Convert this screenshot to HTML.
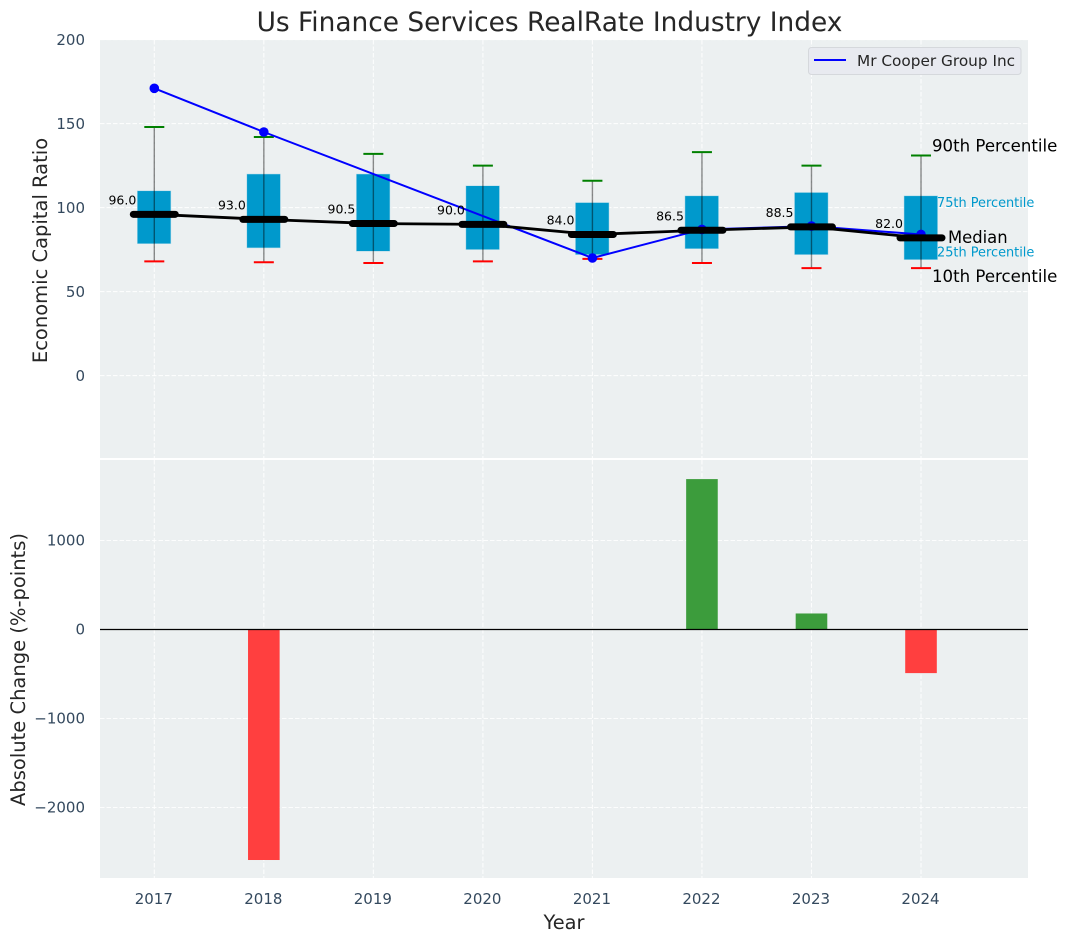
<!DOCTYPE html>
<html lang="en">
<head>
<meta charset="utf-8">
<title>Us Finance Services RealRate Industry Index</title>
<style>
html,body{margin:0;padding:0;background:#fff;}
svg{display:block;font-family:"DejaVu Sans","Liberation Sans",sans-serif;}
</style>
</head>
<body>
<svg id="chart" xmlns="http://www.w3.org/2000/svg" width="1067" height="942" viewBox="0 0 1067 942"></svg>
<script>
const years = [2017, 2018, 2019, 2020, 2021, 2022, 2023, 2024];
const p90 = [148, 142, 132, 125, 116, 133, 125, 131];
const p75 = [110, 120, 120, 113, 103, 107, 109, 107];
const median = [96, 93, 90.5, 90, 84, 86.5, 88.5, 82];
const p25 = [78.5, 76, 74, 75, 72, 75.5, 72, 69];
const p10 = [68, 67.5, 67, 68, 69.5, 67, 64, 64];
const company = [171, 145, null, null, 70, 87, 89, 84];
const change = [null, -2590, null, null, null, 1690, 180, -490];
const topTicks = [0, 50, 100, 150, 200];
const bottomTicks = [-2000, -1000, 0, 1000];

const svg = document.getElementById('chart');
const NS = 'http://www.w3.org/2000/svg';
const L = 100, R = 1028, T1 = 40, B1 = 458, T2 = 460, B2 = 878;
const x = v => 154.3 + (v - 2017) * 109.53;
const y1 = v => 375.6 - v * 1.68;
const y2 = v => 629.5 - v * 0.089;

function make(tag, attrs, text) {
  const el = document.createElementNS(NS, tag);
  for (const k in attrs) el.setAttribute(k, attrs[k]);
  if (text !== undefined) el.textContent = text;
  svg.appendChild(el);
  return el;
}
const GRID = {stroke: '#fff', 'stroke-width': 1.1, 'stroke-dasharray': '4.5 2', 'stroke-opacity': 0.85};
const TICK = {'font-size': 15, fill: '#34495e'};

let el;
el = make('rect', {x: L, y: T1, width: R - L, height: B1 - T1, fill: '#ecf0f1'});


el = make('rect', {x: L, y: T2, width: R - L, height: B2 - T2, fill: '#ecf0f1'});



el = make('text', {x: 549.5, y: 31, 'font-size': 26.4, fill: '#262626', 'text-anchor': 'middle'}, 'Us Finance Services RealRate Industry Index');


el = make('text', {x: 0, y: 0, 'font-size': 19.5, fill: '#262626', 'text-anchor': 'middle', transform: 'translate(47 250.5) rotate(-90)'}, 'Economic Capital Ratio');


el = make('text', {x: 0, y: 0, 'font-size': 19.5, fill: '#262626', 'text-anchor': 'middle', transform: 'translate(25 669.5) rotate(-90)'}, 'Absolute Change (%-points)');


el = make('text', {x: 564, y: 929, 'font-size': 19.4, fill: '#262626', 'text-anchor': 'middle'}, 'Year');



topTicks.forEach(t => {
  const g = make('line', Object.assign({x1: L, x2: R, y1: y1(t), y2: y1(t)}, GRID));
  
  
  const lab = make('text', Object.assign({x: 85, y: y1(t) + 5.4, 'text-anchor': 'end'}, TICK), String(t));
  
  
});
bottomTicks.forEach(t => {
  const g = make('line', Object.assign({x1: L, x2: R, y1: y2(t), y2: y2(t)}, GRID));
  
  
  const lab = make('text', Object.assign({x: 85, y: y2(t) + 5, 'text-anchor': 'end'}, TICK), String(t).replace('-', '\u2212'));
  
  
});
years.forEach(yr => {
  const a = make('line', Object.assign({x1: x(yr), x2: x(yr), y1: T1, y2: B1}, GRID));
  
  
  const b = make('line', Object.assign({x1: x(yr), x2: x(yr), y1: T2, y2: B2}, GRID));
  
  
  const lab = make('text', Object.assign({x: x(yr) - 0.5, y: 904, 'text-anchor': 'middle'}, TICK), String(yr));
  
  
});

/* boxes */
years.forEach((yr, i) => {
  const cx = x(yr);
  const box = make('rect', {x: cx - 17, y: y1(p75[i]), width: 33.6, height: y1(p25[i]) - y1(p75[i]), fill: '#0099cc', stroke: '#b5dcea', 'stroke-width': 0.5});
  
  
  const w = make('line', {x1: cx, x2: cx, y1: y1(p90[i]), y2: y1(p10[i]), stroke: '#000', 'stroke-opacity': 0.45, 'stroke-width': 1.4});
  
  
  const c1 = make('line', {x1: cx - 10, x2: cx + 10, y1: y1(p90[i]), y2: y1(p90[i]), stroke: '#008000', 'stroke-width': 2});
  
  
  const c2 = make('line', {x1: cx - 10, x2: cx + 10, y1: y1(p10[i]), y2: y1(p10[i]), stroke: '#ff0000', 'stroke-width': 2});
  
  
});

/* company series */
const pts = years.map((yr, i) => company[i] === null ? null : [x(yr), y1(company[i])]).filter(Boolean);
el = make('polyline', {points: pts.map(p => p.join(',')).join(' '), fill: 'none', stroke: '#0000ff', 'stroke-width': 2});


pts.forEach(p => {
  const d = make('circle', {cx: p[0], cy: p[1], r: 4.8, fill: '#0000ff'});
  
  
});

/* medians */
el = make('polyline', {points: years.map((yr, i) => x(yr) + ',' + y1(median[i])).join(' '), fill: 'none', stroke: '#000', 'stroke-width': 2.8});


years.forEach((yr, i) => {
  const m = make('line', {x1: x(yr) - 21, x2: x(yr) + 21, y1: y1(median[i]), y2: y1(median[i]), stroke: '#000', 'stroke-width': 7, 'stroke-linecap': 'round'});
  
  
  const t = make('text', {x: x(yr) - 18, y: y1(median[i]) - 10, 'font-size': 12.5, fill: '#000', 'text-anchor': 'end'}, median[i].toFixed(1));
  
  
});

/* percentile annotations */
const last = years.length - 1;
const lx = x(years[last]);
el = make('text', {x: lx + 11, y: y1(p90[last]) - 4, 'font-size': 16.6, fill: '#000'}, '90th Percentile');


el = make('text', {x: lx + 11, y: y1(p10[last]) + 14, 'font-size': 16.6, fill: '#000'}, '10th Percentile');


el = make('text', {x: lx + 27, y: y1(median[last]) + 5, 'font-size': 16.4, fill: '#000'}, 'Median');


el = make('text', {x: lx + 16, y: y1(p75[last]) + 11, 'font-size': 12.9, fill: '#0099cc'}, '75th Percentile');


el = make('text', {x: lx + 16, y: y1(p25[last]) - 3, 'font-size': 12.9, fill: '#0099cc'}, '25th Percentile');



/* legend */
el = make('rect', {x: 808.5, y: 47.5, width: 212.5, height: 27, rx: 3, fill: '#e8eaf0', stroke: '#d5d8dc', 'stroke-width': 1});


el = make('line', {x1: 814, x2: 846, y1: 60, y2: 60, stroke: '#0000ff', 'stroke-width': 2});


el = make('text', {x: 857, y: 66, 'font-size': 15.3, fill: '#262626'}, 'Mr Cooper Group Inc');



/* change bars */
years.forEach((yr, i) => {
  if (change[i] === null) return;
  const top = Math.min(y2(0), y2(change[i]));
  const h = Math.abs(y2(change[i]) - y2(0));
  const bar = make('rect', {x: x(yr) - 15.8, y: top, width: 31.6, height: h, fill: change[i] >= 0 ? '#3c9c3c' : '#ff3f3f'});
  
  
});
el = make('line', {x1: L, x2: R, y1: y2(0), y2: y2(0), stroke: '#000', 'stroke-width': 1.3});


</script>
</body>
</html>
